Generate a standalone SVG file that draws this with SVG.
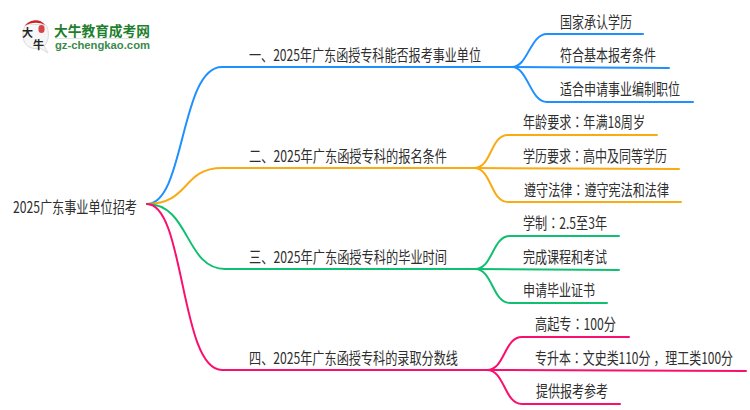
<svg xmlns="http://www.w3.org/2000/svg" width="750" height="410" viewBox="0 0 750 410">
<style>
text{font-family:"Noto Sans CJK SC","Liberation Sans",sans-serif;fill:#2e2e2e;font-size:12px}
.f{font-family:"Noto Sans CJK TC",sans-serif}
.c{fill:none;stroke-width:2;stroke-linecap:round}
.b{stroke:#1e90ff}.o{stroke:#f9ab14}.g{stroke:#10bf70}.p{stroke:#fa0f6e}
</style>
<rect width="750" height="410" fill="#fff"/>
<g id="logo">
<path d="M26 24C21 32 22 43 29 47C33 49 37 49 40 48L48 53L44 46C49 41 50 32 46 25Z" fill="#f6f6f6" stroke="#dcdcdc"/>
<path d="M25 26C29 19 41 18 45 25C39 22 31 22 25 26Z" fill="#cf2027"/>
<rect x="38.500" y="25" width="6" height="8" rx="3" fill="#d8434a"/>
<text transform="translate(22,37)" style="font-size:11px;font-weight:700;fill:#222">大</text>
<text transform="translate(33,49)" style="font-size:11px;font-weight:700;fill:#222">牛</text>
<text x="54" y="36" textLength="96" lengthAdjust="spacingAndGlyphs" style="font-size:14px;font-weight:700;fill:#1f7f2f">大牛教育成考网</text>
<line x1="55" y1="38.500" x2="150" y2="38.500" stroke="#dfe8df"/>
<text x="55" y="49" textLength="95" lengthAdjust="spacingAndGlyphs" style="font-size:11px;font-weight:700;fill:#3a8a4c;font-family:'Liberation Sans',sans-serif">gz-chengkao.com</text>
</g>
<g id="connectors">
<path class="c b" d="M147 204C185 204 180 67 222 67H512"/>
<path class="c b" d="M512 67C528 67 530 34 547 34H643"/>
<path class="c b" d="M512 67L669 68"/>
<path class="c b" d="M512 67C528 67 530 102 547 102H693"/>
<path class="c o" d="M147 204C190 204 182 168 222 168H474"/>
<path class="c o" d="M474 168C492 168 490 135 508 135H657"/>
<path class="c o" d="M474 168L679 169"/>
<path class="c o" d="M474 168C492 168 490 202 508 202H681"/>
<path class="c g" d="M147 204C190 204 185 269 225 269H475"/>
<path class="c g" d="M475 269C493 269 492 236 510 236H619"/>
<path class="c g" d="M475 269L619 270"/>
<path class="c g" d="M475 269C493 269 492 303 510 303H607"/>
<path class="c p" d="M147 204C185 204 180 370 222 370H487"/>
<path class="c p" d="M487 370C505 370 504 337 522 337H629"/>
<path class="c p" d="M487 370L746 371"/>
<path class="c p" d="M487 370C505 370 504 404 522 404H620"/>
</g>
<g id="root"><text transform="translate(13,212.500) scale(1,1.300)" textLength="124" lengthAdjust="spacingAndGlyphs">2025广东事业单位招考</text></g>
<g id="n1"><text transform="translate(249,61) scale(1,1.300)" textLength="232" lengthAdjust="spacingAndGlyphs">一、2025年广东函授专科能否报考事业单位</text></g>
<g id="n2"><text transform="translate(249,162) scale(1,1.300)" textLength="198" lengthAdjust="spacingAndGlyphs">二、2025年广东函授专科的报名条件</text></g>
<g id="n3"><text transform="translate(249,263) scale(1,1.300)" textLength="198" lengthAdjust="spacingAndGlyphs">三、2025年广东函授专科的毕业时间</text></g>
<g id="n4"><text transform="translate(249,364) scale(1,1.300)" textLength="209" lengthAdjust="spacingAndGlyphs">四、2025年广东函授专科的录取分数线</text></g>
<g id="n1a"><text transform="translate(560,28) scale(1,1.300)" textLength="72" lengthAdjust="spacingAndGlyphs">国家承认学历</text></g>
<g id="n1b"><text transform="translate(560,61) scale(1,1.300)" textLength="96" lengthAdjust="spacingAndGlyphs">符合基本报考条件</text></g>
<g id="n1c"><text transform="translate(560,95) scale(1,1.300)" textLength="120" lengthAdjust="spacingAndGlyphs">适合申请事业编制职位</text></g>
<g id="n2a"><text transform="translate(523,128) scale(1,1.300)" textLength="122" lengthAdjust="spacingAndGlyphs">年龄要求<tspan class="f">：</tspan>年满18周岁</text></g>
<g id="n2b"><text transform="translate(523,162) scale(1,1.300)" textLength="144" lengthAdjust="spacingAndGlyphs">学历要求<tspan class="f">：</tspan>高中及同等学历</text></g>
<g id="n2c"><text transform="translate(524,196) scale(1,1.300)" textLength="145" lengthAdjust="spacingAndGlyphs">遵守法律<tspan class="f">：</tspan>遵守宪法和法律</text></g>
<g id="n3a"><text transform="translate(523,229) scale(1,1.300)" textLength="84" lengthAdjust="spacingAndGlyphs">学制<tspan class="f">：</tspan>2.5至3年</text></g>
<g id="n3b"><text transform="translate(523,263) scale(1,1.300)" textLength="84" lengthAdjust="spacingAndGlyphs">完成课程和考试</text></g>
<g id="n3c"><text transform="translate(523,296) scale(1,1.300)" textLength="72" lengthAdjust="spacingAndGlyphs">申请毕业证书</text></g>
<g id="n4a"><text transform="translate(535,330) scale(1,1.300)" textLength="81" lengthAdjust="spacingAndGlyphs">高起专<tspan class="f">：</tspan>100分</text></g>
<g id="n4b"><text transform="translate(535,364) scale(1,1.300)" textLength="198" lengthAdjust="spacingAndGlyphs">专升本<tspan class="f">：</tspan>文史类110分<tspan dx="3">，</tspan>理工类100分</text></g>
<g id="n4c"><text transform="translate(536,397) scale(1,1.300)" textLength="72" lengthAdjust="spacingAndGlyphs">提供报考参考</text></g>
</svg>
